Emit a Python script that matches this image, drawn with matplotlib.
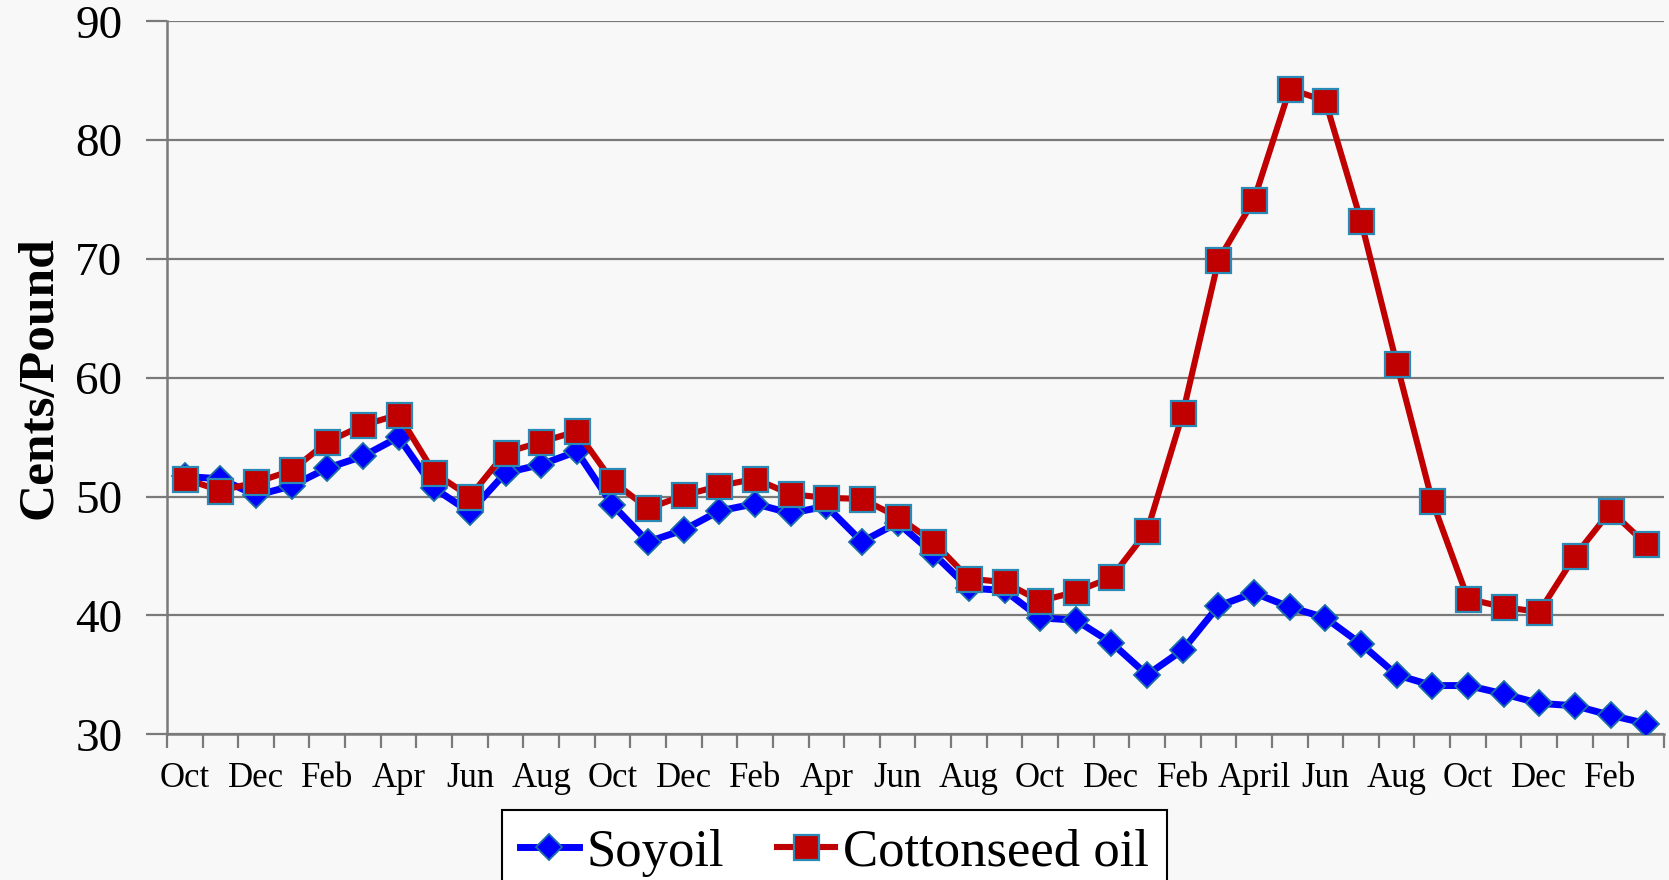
import numpy as np
import matplotlib.pyplot as plt

# monthly prices, Oct .. Mar (42 months)
month_labels = ['Oct', 'Dec', 'Feb', 'Apr', 'Jun', 'Aug',
                'Oct', 'Dec', 'Feb', 'Apr', 'Jun', 'Aug',
                'Oct', 'Dec', 'Feb', 'April', 'Jun', 'Aug',
                'Oct', 'Dec', 'Feb']

soyoil = [51.7, 51.5, 50.1, 50.9, 52.4, 53.4, 55.0, 50.7, 48.7, 52.0, 52.7, 53.8,
          49.3, 46.2, 47.2, 48.8, 49.4, 48.6, 49.2, 46.2, 47.8, 45.2, 42.3, 42.1,
          39.8, 39.6, 37.7, 35.0, 37.1, 40.8, 41.9, 40.7, 39.8, 37.6, 35.0, 34.1,
          34.1, 33.4, 32.6, 32.4, 31.6, 30.9]

cottonseed = [51.5, 50.5, 51.2, 52.2, 54.6, 56.0, 56.9, 52.0, 50.0, 53.7, 54.6, 55.5,
              51.3, 49.0, 50.1, 50.9, 51.5, 50.2, 49.9, 49.8, 48.3, 46.2, 43.1, 42.8,
              41.2, 42.0, 43.2, 47.1, 57.0, 69.9, 75.0, 84.3, 83.3, 73.2, 61.2, 49.6,
              41.4, 40.7, 40.3, 45.0, 48.8, 46.0]

plt.rcParams['font.family'] = ['Liberation Serif', 'DejaVu Serif']

bg = '#f8f8f8'
grid_c = '#7a7a7a'

fig = plt.figure(figsize=(16.69, 8.80), dpi=100, facecolor=bg)
ax = fig.add_axes([0.100, 0.1656, 0.897, 0.8102])
ax.set_facecolor(bg)

x = np.arange(len(soyoil))
ax.plot(x, soyoil, color='#0000ff', lw=5.0, marker='D', ms=13,
        mfc='#0000ff', mec='#1a6fa8', mew=1.3, label='Soyoil', zorder=3)
ax.plot(x, cottonseed, color='#c00000', lw=4.4, marker='s', ms=18,
        mfc='#c00000', mec='#2a8ab5', mew=1.6, label='Cottonseed oil', zorder=4)

ax.set_xlim(-0.5, len(soyoil) - 0.5)
ax.set_ylim(30, 90)
ax.set_yticks(np.arange(30, 91, 10))
ax.yaxis.grid(True, color=grid_c, lw=1.6)
ax.set_axisbelow(True)

# labels every second month, tick marks between months
ax.set_xticks(np.arange(0, len(soyoil), 2))
ax.set_xticklabels(month_labels)
ax.set_xticks(np.arange(-0.5, len(soyoil), 1), minor=True)
ax.tick_params(axis='x', which='major', length=0, labelsize=25, pad=20)
ax.tick_params(axis='x', which='minor', length=10, width=1.6, color=grid_c)
ax.tick_params(axis='y', length=15, width=1.6, color=grid_c, labelsize=34, pad=17)

for s in ['top', 'right']:
    ax.spines[s].set_visible(False)
for s in ['left', 'bottom']:
    ax.spines[s].set_color(grid_c)
    ax.spines[s].set_linewidth(1.8)

ax.set_ylabel('Cents/Pound', fontsize=37, fontweight='bold', labelpad=9)

leg = fig.legend(loc='upper center', bbox_to_anchor=(0.5, 0.079), ncol=2,
                 fontsize=38, frameon=True, fancybox=False, edgecolor='black',
                 facecolor='white', framealpha=1, handlelength=1.1,
                 handletextpad=0.15, columnspacing=1.0, borderpad=0.35,
                 borderaxespad=0)
leg.get_frame().set_linewidth(1.5)

fig.savefig('out.png', dpi=100, facecolor=bg)
